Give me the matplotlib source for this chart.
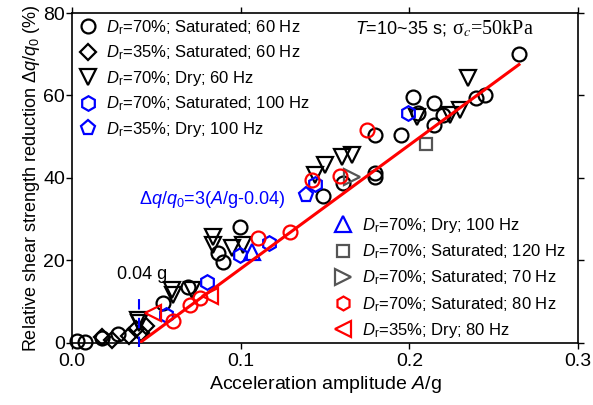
import matplotlib
matplotlib.use("Agg")
import numpy as np
import matplotlib.pyplot as plt
from matplotlib.lines import Line2D

plt.rcParams['font.family'] = ['Liberation Sans', 'DejaVu Sans']
plt.rcParams['mathtext.fontset'] = 'custom'
plt.rcParams['mathtext.rm'] = 'Liberation Sans'
plt.rcParams['mathtext.it'] = 'Liberation Sans:italic'
plt.rcParams['mathtext.bf'] = 'Liberation Sans:bold'

# acceleration amplitude A/g and strength reduction (%) per test group
sat70_60_A = [0.003, 0.008, 0.018, 0.027, 0.054, 0.069, 0.0866, 0.0896, 0.0996,
              0.149, 0.1606, 0.1796, 0.1796, 0.1796, 0.195, 0.202, 0.205, 0.2146,
              0.2146, 0.2197, 0.2395, 0.2448, 0.2648]
sat70_60_y = [0.5, 0.3, 1.2, 2.2, 9.7, 13.6, 21.8, 19.6, 28.1,
              35.6, 38.8, 50.4, 41.2, 40.2, 50.4, 59.7, 55.7, 58.2,
              52.8, 55.3, 59.4, 60.1, 70.0]

sat35_60_A = [0.018, 0.024, 0.034, 0.041, 0.038, 0.044]
sat35_60_y = [1.5, 0.8, 1.8, 2.5, 3.5, 4.0]

dry70_60_A = [0.039, 0.040, 0.059, 0.060, 0.071, 0.0836, 0.0836, 0.095, 0.1014,
              0.144, 0.150, 0.160, 0.166, 0.2045, 0.224, 0.230, 0.2347]
dry70_60_y = [5.6, 4.8, 12.8, 11.6, 12.8, 25.7, 23.8, 23.0, 23.8,
              40.7, 43.2, 45.1, 45.6, 54.8, 55.3, 56.5, 64.2]

sat70_100_A = [0.056, 0.080, 0.0996, 0.117, 0.144, 0.199]
sat70_100_y = [6.8, 14.8, 21.3, 24.2, 38.5, 55.7]

dry35_100_A = [0.139]
dry35_100_y = [35.9]

dry70_100_A = [0.107]
dry70_100_y = [22.0]

sat70_120_A = [0.210]
sat70_120_y = [48.2]

sat70_70_A = [0.166]
sat70_70_y = [40.2]

sat70_80_A = [0.060, 0.070, 0.076, 0.110, 0.129, 0.142, 0.159, 0.175]
sat70_80_y = [5.3, 9.2, 11.0, 25.5, 26.8, 39.5, 40.5, 51.6]

dry35_80_A = [0.048, 0.082]
dry35_80_y = [7.2, 11.4]

# fitted relation: dq/q0 = 3 (A/g - 0.04)
fit_slope = 3.0
fit_a0 = 0.04
fit_A = np.array([0.04, 0.265])

labels_left = ["$D_\\mathrm{r}$=70%; Saturated; 60 Hz",
               "$D_\\mathrm{r}$=35%; Saturated; 60 Hz",
               "$D_\\mathrm{r}$=70%; Dry; 60 Hz",
               "$D_\\mathrm{r}$=70%; Saturated; 100 Hz",
               "$D_\\mathrm{r}$=35%; Dry; 100 Hz"]
labels_right = ["$D_\\mathrm{r}$=70%; Dry; 100 Hz",
                "$D_\\mathrm{r}$=70%; Saturated; 120 Hz",
                "$D_\\mathrm{r}$=70%; Saturated; 70 Hz",
                "$D_\\mathrm{r}$=70%; Saturated; 80 Hz",
                "$D_\\mathrm{r}$=35%; Dry; 80 Hz"]

gray = '#555555'
# (x, y, marker used in plot, legend marker, colour, size)
groups = [
    (sat70_60_A, sat70_60_y, 'o', 'o', 'black', 10),
    (sat35_60_A, sat35_60_y, 'D', 'D', 'black', 8.5),
    (dry70_60_A, dry70_60_y, 'v', 'v', 'black', 11),
    (sat70_100_A, sat70_100_y, 'h', 'h', 'blue', 10.5),
    (dry35_100_A, dry35_100_y, 'p', 'p', 'blue', 11),
    (dry70_100_A, dry70_100_y, '^', '^', 'blue', 11),
    (sat70_120_A, sat70_120_y, 's', 's', gray, 8.5),
    (sat70_70_A, sat70_70_y, '>', '>', gray, 11),
    (sat70_80_A, sat70_80_y, 'o', 'h', 'red', 10),
    (dry35_80_A, dry35_80_y, '<', '<', 'red', 11),
]

fig = plt.figure(figsize=(5.93, 4.05), dpi=100)
ax = fig.add_axes([0.1214, 0.1531, 0.8533, 0.8148])

handles = []
for xs, ys, m, lm, c, ms in groups:
    ax.plot(xs, ys, linestyle='none', marker=m, ms=ms, mfc='none', mec=c,
            mew=1.6, clip_on=False, zorder=3)
    handles.append(Line2D([], [], linestyle='none', marker=lm, ms=ms, mfc='none',
                          mec=c, mew=1.6))

ax.plot(fit_A, fit_slope * (fit_A - fit_a0) * 100, color='red', lw=2.2, zorder=4)
ax.plot([0.04, 0.04], [-1, 11], color='blue', lw=1.5, ls=(0, (5, 4)),
        clip_on=False, zorder=5)

ax.text(0.0415, 16.5, "0.04 g", fontsize=13, ha='center', va='center')
ax.text(0.040, 34.7, "Δ$q$/$q_0$=3($A$/g-0.04)", fontsize=13, color='blue',
        ha='left', va='center')

t1 = ax.text(0.168, 76.2, "$T$=10~35 s;", fontsize=13, ha='left', va='center')
ax.annotate("σ$_c$=50kPa", xy=(1, 0), xycoords=t1, xytext=(4, -0.5),
            textcoords='offset points', ha='left', va='bottom', fontsize=14.5,
            family='Liberation Serif', math_fontfamily='stix')

leg1 = ax.legend(handles[:5], labels_left, loc='upper left',
                 bbox_to_anchor=(-0.005, 1.015), frameon=False, fontsize=12,
                 handlelength=1.0, handletextpad=0.6, labelspacing=0.4,
                 borderaxespad=0.2)
ax.add_artist(leg1)
ax.legend(handles[5:], labels_right, loc='upper left',
          bbox_to_anchor=(0.5, 0.415), frameon=False, fontsize=12,
          handlelength=1.0, handletextpad=0.6, labelspacing=0.45,
          borderaxespad=0.2)

ax.set_xlim(0, 0.3)
ax.set_ylim(0, 80)
ax.set_xticks([0.0, 0.1, 0.2, 0.3])
ax.set_xticklabels(['0.0', '0.1', '0.2', '0.3'])
ax.set_yticks([0, 20, 40, 60, 80])
ax.tick_params(direction='out', length=4, width=1, labelsize=14,
               top=True, right=True)
ax.tick_params(axis='y', pad=1)
ax.tick_params(axis='x', pad=3)
for s in ax.spines.values():
    s.set_linewidth(1.2)

ax.set_xlabel("Acceleration amplitude $A$/g", fontsize=14, labelpad=3)
ax.set_ylabel("Relative shear strength reduction Δ$q$/$q_0$ (%)", fontsize=13,
              labelpad=1)

fig.savefig("out.png", dpi=100)
